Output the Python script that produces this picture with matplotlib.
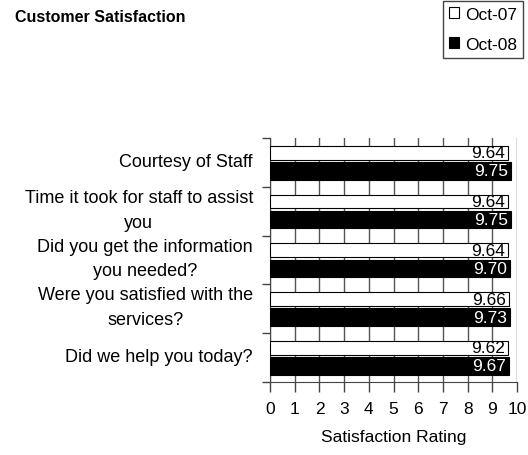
import matplotlib.pyplot as plt
import matplotlib.transforms as mtransforms
import numpy as np

plt.rcParams['font.family'] = ['Liberation Sans', 'DejaVu Sans']
plt.rcParams['font.size'] = 12.5

# data
categories = ['Courtesy of Staff',
              'Time it took for staff to assist\nyou',
              'Did you get the information\nyou needed?',
              'Were you satisfied with the\nservices?',
              'Did we help you today?']
oct07 = [9.64, 9.64, 9.64, 9.66, 9.62]
oct08 = [9.75, 9.75, 9.70, 9.73, 9.67]
series_names = ['Oct-07', 'Oct-08']
xticks = list(range(0, 11))

fig = plt.figure(figsize=(5.28, 4.56), dpi=100)
ax = fig.add_axes([0.5114, 0.16, 0.468, 0.535])

y = np.arange(len(categories))
b1 = ax.barh(y - 0.2, oct07, height=0.28, color='white', edgecolor='black',
             linewidth=0.8, label=series_names[0], zorder=3)
b2 = ax.barh(y + 0.17, oct08, height=0.36, color='black', edgecolor='black',
             linewidth=0.8, label=series_names[1], zorder=3)

# value labels inside bar ends
for yi, v in zip(y, oct07):
    ax.text(v - 0.12, yi - 0.2, f'{v:.2f}', ha='right', va='center',
            color='black', zorder=4)
for yi, v in zip(y, oct08):
    ax.text(v - 0.12, yi + 0.17, f'{v:.2f}', ha='right', va='center',
            color='white', zorder=4)

ax.set_xlim(0, 10)
ax.set_ylim(len(categories) - 0.5, -0.5)
ax.set_xticks(xticks)
ax.set_xticklabels([str(t) for t in xticks])

# category labels: right edge left of the axis, lines centred
ax.set_yticks([])
ax.set_yticks(np.arange(-0.5, len(categories)), minor=True)
ax.tick_params(axis='y', which='minor', length=6, width=1, color='#444444')
trans = mtransforms.blended_transform_factory(ax.transAxes, ax.transData)
for yi, lab in zip(y, categories):
    ax.text(-0.069, yi - 0.03, lab, transform=trans, ha='right', va='center',
            multialignment='center', linespacing=1.6, fontsize=13)

ax.tick_params(axis='x', length=7, width=1, color='#444444', pad=7)

ax.grid(axis='x', color='#555555', linewidth=1.0, zorder=0)
ax.set_axisbelow(True)
for s in ['top', 'right']:
    ax.spines[s].set_visible(False)
ax.spines['left'].set_color('#444444')
ax.spines['bottom'].set_color('#444444')

ax.set_xlabel('Satisfaction Rating', fontsize=12.5, labelpad=9)

fig.text(15 / 528, 1 - 18 / 456, 'Customer Satisfaction', fontsize=11.5,
         fontweight='bold', ha='left', va='center')

fig.legend(handles=[b1, b2], labels=series_names, loc='upper left',
           bbox_to_anchor=(441 / 528, 1.0), borderaxespad=0.1,
           fancybox=False, edgecolor='#444444', fontsize=12.5,
           handlelength=0.6, handleheight=0.6, handletextpad=0.35,
           borderpad=0.35, labelspacing=0.85, framealpha=1)

fig.savefig('out.png', dpi=100)
